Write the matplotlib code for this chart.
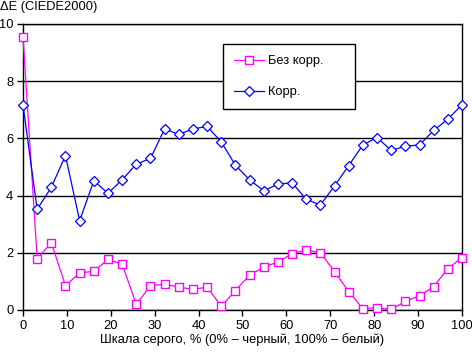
import numpy as np
import matplotlib
matplotlib.use("Agg")
import matplotlib.pyplot as plt

plt.rcParams['font.family'] = ['Liberation Sans', 'DejaVu Sans']

# шкала серого, %
gray = np.linspace(0, 100, 32)

# без коррекции
no_corr = [9.55, 1.8, 2.35, 0.85, 1.3, 1.35, 1.77, 1.6, 0.2, 0.85,
           0.9, 0.8, 0.72, 0.8, 0.13, 0.68, 1.22, 1.5, 1.68, 1.97,
           2.1, 2.0, 1.34, 0.64, 0.05, 0.08, 0.02, 0.3, 0.5, 0.82,
           1.45, 1.83]

# с коррекцией
corr = [7.17, 3.52, 4.29, 5.4, 3.12, 4.52, 4.08, 4.55, 5.1, 5.3,
        6.33, 6.14, 6.33, 6.42, 5.88, 5.06, 4.55, 4.17, 4.4, 4.45,
        3.87, 3.67, 4.34, 5.05, 5.77, 6.03, 5.58, 5.73, 5.77, 6.28,
        6.67, 7.18]

labels = ['Без корр.', 'Корр.']
fs = 9.3

fig = plt.figure(figsize=(4.72, 3.53), dpi=100)
ax = fig.add_axes([23 / 472, 1 - 310 / 353, 439 / 472, 286 / 353])

ax.plot(gray, no_corr, color='#ff00ff', lw=0.9, marker='s', ms=5.4,
        mfc='white', mec='#ff00ff', mew=1.0, label=labels[0], clip_on=False, zorder=3)
ax.plot(gray, corr, color='#0000ff', lw=0.9, marker='D', ms=5.4,
        mfc='white', mec='#0000ff', mew=0.9, label=labels[1], clip_on=False, zorder=3)

ax.set_xlim(0, 100)
ax.set_ylim(0, 10)
ax.set_xticks(range(0, 101, 10))
ax.set_yticks(range(0, 11, 2))
ax.yaxis.grid(True, color='black', lw=1.0)
ax.set_axisbelow(True)
ax.tick_params(direction='out', length=4, width=1, labelsize=fs, colors='black', pad=3)
for s in ax.spines.values():
    s.set_color('black')
    s.set_linewidth(1.0)

ax.set_xlabel('Шкала серого, % (0% – черный, 100% – белый)', fontsize=fs, labelpad=1)
fig.text(0.0, 0.998, 'ΔE (CIEDE2000)', fontsize=fs, va='top', ha='left')

leg = ax.legend(loc='upper left', bbox_to_anchor=(0.456, 0.703, 0.301, 0.226),
                mode='expand', frameon=True, fancybox=False, edgecolor='black',
                framealpha=1, fontsize=fs, handlelength=2.3, borderaxespad=0,
                labelspacing=1.45, borderpad=0.85, handletextpad=0.3)
leg.get_frame().set_linewidth(1.0)
leg.set_zorder(5)

fig.savefig('out.png', dpi=100)
